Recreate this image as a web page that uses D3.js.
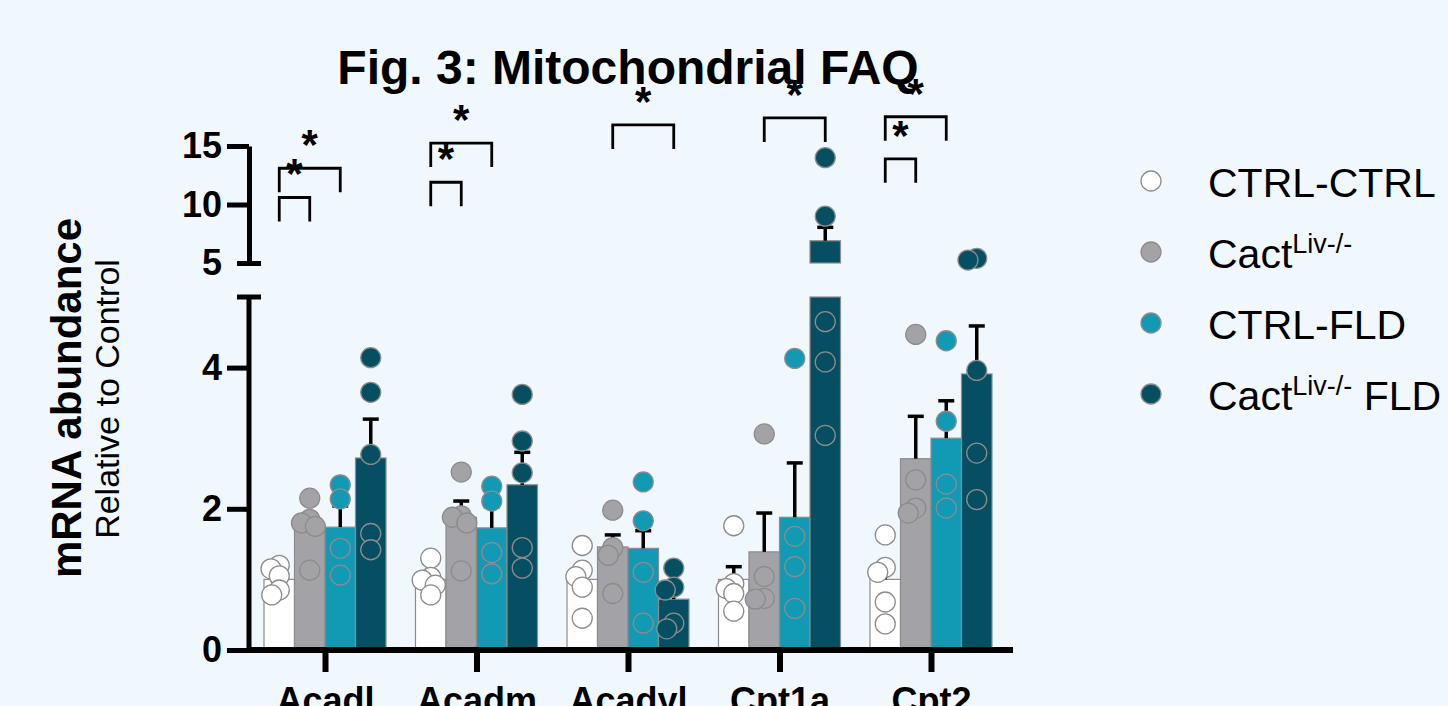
<!DOCTYPE html>
<html>
<head>
<meta charset="utf-8">
<script src="https://cdn.jsdelivr.net/npm/d3@7"></script>
<style>
  html, body { margin: 0; padding: 0; background: #f1f8fd; }
  svg { display: block; font-family: "Liberation Sans", Arial, sans-serif; }
</style>
</head>
<body>
<svg id="chart" width="1448" height="706"></svg>
<script>
// Data
const genes = ["Acadl", "Acadm", "Acadyl", "Cpt1a", "Cpt2"];
const groupNames = ["CTRL-CTRL", "Cact", "CTRL-FLD", "Cact"];
const groupSup = ["", "Liv-/-", "", "Liv-/-"];
const groupTail = ["", "", "", " FLD"];
const groupColors = ["#ffffff", "#a3a2a7", "#1299b4", "#064f62"];

// bar heights per gene, one array per group
const meanCtrl = [1.00, 1.00, 1.00, 1.00, 1.00];
const meanCact = [1.74, 1.88, 1.46, 1.39, 2.71];
const meanFld = [1.74, 1.73, 1.44, 1.88, 3.00];
const meanCactFld = [2.72, 2.34, 0.72, 6.90, 3.91];

// upper error (SEM)
const semCtrl = [0.10, 0.10, 0.12, 0.18, 0.12];
const semCact = [0.19, 0.23, 0.17, 0.55, 0.60];
const semFld = [0.30, 0.30, 0.25, 0.77, 0.53];
const semCactFld = [0.55, 0.46, 0.15, 1.15, 0.68];

// individual animals
const ptsCtrl = [
    [1.20, 1.15, 1.05, 0.85, 0.78],
    [1.30, 1.03, 0.99, 0.92, 0.78],
    [1.48, 1.13, 1.04, 0.89, 0.45],
    [1.76, 0.94, 0.87, 0.80, 0.55],
    [1.63, 1.17, 1.10, 0.68, 0.37]
];
const ptsCact = [
    [2.15, 1.85, 1.80, 1.75, 1.13],
    [2.52, 1.90, 1.88, 1.80, 1.12],
    [1.98, 1.45, 1.34, 0.80],
    [3.06, 1.04, 0.73, 0.72],
    [4.47, 2.41, 2.01, 1.94]
];
const ptsFld = [
    [2.34, 2.14, 1.44, 1.06],
    [2.32, 2.11, 1.38, 1.08],
    [2.38, 1.83, 1.10, 0.38],
    [4.13, 1.61, 1.18, 0.59],
    [4.38, 3.24, 2.35, 2.01]
];
const ptsCactFld = [
    [4.14, 3.65, 2.77, 1.65, 1.42],
    [3.62, 2.96, 2.51, 1.45, 1.16],
    [1.16, 0.89, 0.85, 0.38, 0.30],
    [14.0, 9.00, 4.65, 4.08, 3.04],
    [5.40, 5.25, 3.96, 2.79, 2.13]
];

const lowTicks = [0, 2, 4];
const highTicks = [5, 10, 15];

// significance brackets: gene, from group, to group, level (upper axis units)
const brackets = [
    ["Acadl", 0, 1, 10.6],
    ["Acadl", 0, 2, 13.1],
    ["Acadm", 0, 1, 11.9],
    ["Acadm", 0, 2, 15.25],
    ["Acadyl", 1, 3, 16.8],
    ["Cpt1a", 1, 3, 17.4],
    ["Cpt2", 0, 2, 17.5],
    ["Cpt2", 0, 1, 13.9]
];

const means = [meanCtrl, meanCact, meanFld, meanCactFld];
const sems = [semCtrl, semCact, semFld, semCactFld];
const points = [ptsCtrl, ptsCact, ptsFld, ptsCactFld];

// Setup
const width = 1448;
const height = 706;
const bg = "#f1f8fd";
const edge = "#8c8c8c";
const font = "'Liberation Sans', Arial, sans-serif";
const svg = d3.select("#chart");

svg.append("rect").attr("width", width).attr("height", height).attr("fill", bg);

const x = d3.scalePoint().domain(genes).range([325, 931]);
const xInner = d3.scaleBand().domain(d3.range(groupNames.length)).range([-61, 61]);
const yLow = d3.scaleLinear().domain([0, 5]).range([650, 297]);
const yHigh = d3.scaleLinear().domain([5, 15]).range([263, 146]);
const yPos = v => (v <= 5 ? yLow(v) : yHigh(v));
const barX = (g, k) => x(g) + xInner(k);
const barMid = (g, k) => barX(g, k) + xInner.bandwidth() / 2;

const cells = [];
genes.forEach((g, gi) => {
    groupNames.forEach((name, k) => {
        cells.push({ gene: g, k: k, mean: means[k][gi], sem: sems[k][gi], pts: points[k][gi] });
    });
});

// Bars (split in two when crossing the axis break)
const barLayer = svg.append("g");
cells.forEach(c => {
    barLayer.append("rect")
        .attr("x", barX(c.gene, c.k))
        .attr("y", yLow(Math.min(c.mean, 5)))
        .attr("width", xInner.bandwidth())
        .attr("height", yLow(0) - yLow(Math.min(c.mean, 5)))
        .attr("fill", groupColors[c.k])
        .attr("stroke", edge)
        .attr("stroke-width", 1.2);
    if (c.mean > 5) {
        barLayer.append("rect")
            .attr("x", barX(c.gene, c.k))
            .attr("y", yHigh(c.mean))
            .attr("width", xInner.bandwidth())
            .attr("height", yHigh(5) - yHigh(c.mean))
            .attr("fill", groupColors[c.k])
            .attr("stroke", edge)
            .attr("stroke-width", 1.2);
    }
});

// Error bars (upper only)
const errLayer = svg.append("g").attr("stroke", "#000").attr("stroke-width", 3.5);
cells.forEach(c => {
    const cx = barMid(c.gene, c.k);
    const top = c.mean + c.sem;
    errLayer.append("line")
        .attr("x1", cx).attr("x2", cx)
        .attr("y1", yPos(c.mean)).attr("y2", yPos(top));
    errLayer.append("line")
        .attr("x1", cx - 8).attr("x2", cx + 8)
        .attr("y1", yPos(top)).attr("y2", yPos(top));
});

// simple beeswarm so that dots only nudge sideways when they collide
function swarm(values, dist) {
    const placed = [];
    values.slice().sort((a, b) => b - a).forEach(v => {
        const py = yPos(v);
        const cand = [0];
        placed.forEach(p => {
            const dy = Math.abs(p.y - py);
            if (dy < dist) {
                const dx = Math.sqrt(dist * dist - dy * dy);
                cand.push(p.x - dx, p.x + dx);
            }
        });
        cand.sort((a, b) => Math.abs(a) - Math.abs(b));
        const best = cand.find(cx => placed.every(p => (p.x - cx) ** 2 + (p.y - py) ** 2 >= dist * dist - 0.01));
        placed.push({ x: best, y: py });
    });
    return placed;
}

const dotLayer = svg.append("g");
cells.forEach(c => {
    const cx = barMid(c.gene, c.k);
    swarm(c.pts, 9).forEach(p => {
        dotLayer.append("circle")
            .attr("cx", cx + p.x)
            .attr("cy", p.y)
            .attr("r", 10)
            .attr("fill", groupColors[c.k])
            .attr("stroke", edge)
            .attr("stroke-width", 1.3);
    });
});

// Axes
const axisX = 249;
const lowAxis = svg.append("g")
    .attr("transform", `translate(${axisX},0)`)
    .call(d3.axisLeft(yLow).tickValues(lowTicks).tickFormat(d3.format("d"))
        .tickSize(22).tickSizeOuter(0).tickPadding(5));
const highAxis = svg.append("g")
    .attr("transform", `translate(${axisX},0)`)
    .call(d3.axisLeft(yHigh).tickValues(highTicks).tickFormat(d3.format("d"))
        .tickSize(22).tickSizeOuter(0).tickPadding(5));

[lowAxis, highAxis].forEach(a => {
    a.selectAll("path, line").attr("stroke", "#000").attr("stroke-width", 5);
    a.selectAll("text")
        .attr("font-size", 36)
        .attr("font-weight", "bold")
        .attr("font-family", font)
        .attr("fill", "#000");
});
// break caps
highAxis.selectAll(".tick").filter(d => d === 5).select("line").attr("x1", -12).attr("x2", 12);
lowAxis.append("line")
    .attr("x1", -12).attr("x2", 12)
    .attr("y1", yLow(5)).attr("y2", yLow(5))
    .attr("stroke", "#000").attr("stroke-width", 5);
lowAxis.select(".domain").attr("d", `M0,${yLow(0) + 3}V${yLow(5)}`);

const bottomAxis = svg.append("g")
    .attr("transform", `translate(0,${yLow(0)})`)
    .call(d3.axisBottom(x).tickSize(22).tickPadding(15));
bottomAxis.select(".domain").attr("d", `M${axisX - 2},0H1013`);
bottomAxis.selectAll("path, line").attr("stroke", "#000").attr("stroke-width", 6);
bottomAxis.selectAll("text")
    .attr("font-size", 36)
    .attr("font-weight", "bold")
    .attr("font-family", font)
    .attr("fill", "#000");

// Axis title
svg.append("text")
    .attr("transform", "translate(81,398) rotate(-90)")
    .attr("text-anchor", "middle")
    .attr("font-size", 42)
    .attr("font-weight", "bold")
    .text("mRNA abundance");
svg.append("text")
    .attr("transform", "translate(119,399) rotate(-90)")
    .attr("text-anchor", "middle")
    .attr("font-size", 34)
    .text("Relative to Control");

// Title
svg.append("text")
    .attr("x", 628)
    .attr("y", 84)
    .attr("text-anchor", "middle")
    .attr("font-size", 48)
    .attr("font-weight", "bold")
    .text("Fig. 3: Mitochondrial FAQ");

// Significance brackets
const brLayer = svg.append("g");
brackets.forEach(([g, a, b, lvl]) => {
    const x1 = barMid(g, a);
    const x2 = barMid(g, b);
    const yt = yHigh(lvl);
    brLayer.append("path")
        .attr("d", `M${x1},${yt + 24}V${yt}H${x2}V${yt + 24}`)
        .attr("fill", "none")
        .attr("stroke", "#000")
        .attr("stroke-width", 2.8);
    brLayer.append("text")
        .attr("x", (x1 + x2) / 2)
        .attr("y", yt - 9)
        .attr("text-anchor", "middle")
        .attr("font-size", 42)
        .attr("font-weight", "bold")
        .text("*");
});

// Legend
const legend = svg.append("g").attr("transform", "translate(1151,181)");
groupNames.forEach((name, k) => {
    const row = legend.append("g").attr("transform", `translate(0,${k * 71})`);
    row.append("circle")
        .attr("r", 10)
        .attr("fill", groupColors[k])
        .attr("stroke", edge)
        .attr("stroke-width", 1.3);
    const t = row.append("text")
        .attr("x", 57)
        .attr("y", 16)
        .attr("font-size", 41)
        .attr("fill", "#000");
    t.append("tspan").text(name);
    if (groupSup[k]) {
        t.append("tspan").attr("dy", -15).attr("font-size", 27).text(groupSup[k]);
        if (groupTail[k]) t.append("tspan").attr("dy", 15).text(groupTail[k]);
    }
});
</script>
</body>
</html>
